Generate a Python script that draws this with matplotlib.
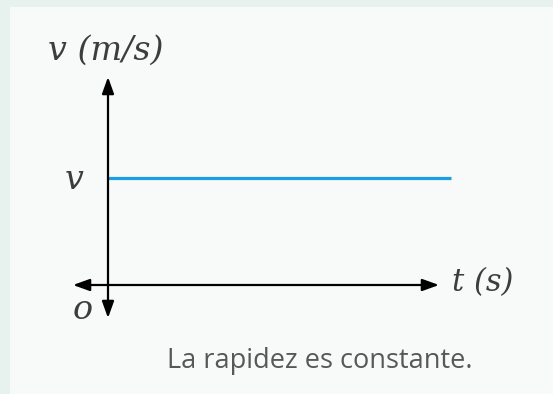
import matplotlib
matplotlib.use("Agg")
import matplotlib.pyplot as plt
from matplotlib.patches import Rectangle

# Data
times = [0, 10]
velocity = [1, 1]
y_label = "v (m/s)"
x_label = "t (s)"
v_tick = "v"
origin_label = "o"
caption = "La rapidez es constante."

W, H = 553, 394
fig = plt.figure(figsize=(W / 100, H / 100), dpi=100)
fig.patch.set_facecolor("#e7f2ef")
fig.patches.append(Rectangle((10 / W, 0), 1 - 10 / W, (H - 7) / H,
                             transform=fig.transFigure, facecolor="#f8f9f9",
                             edgecolor="none", zorder=-10))

ax = fig.add_axes([0, 0, 1, 1])
ax.set_facecolor("none")
# pixel mapping: origin at (108, 285); t=10 -> x=451; v=1 -> y=178
sx = 343 / 10
sy = 107 / 1
ax.set_xlim(-108 / sx, (W - 108) / sx)
ax.set_ylim((285 - H) / sy, 285 / sy)
ax.axis("off")

def px(x, y):
    return ((x - 108) / sx, (285 - y) / sy)

ax.plot(times, velocity, color="#1aa0e2", lw=2.3, solid_capstyle="butt", zorder=3)

arrow = dict(arrowstyle="<|-|>,head_length=1.0,head_width=0.36", color="black",
             lw=1.6, mutation_scale=10, shrinkA=0, shrinkB=0)
ax.annotate("", xy=px(73, 285), xytext=px(439, 285), arrowprops=arrow, zorder=4)
ax.annotate("", xy=px(108, 318), xytext=px(108, 77), arrowprops=arrow, zorder=4)

serif = dict(family=["DejaVu Serif"], style="italic", color="#3d3d3d")
fig.text(106 / W, 1 - 51 / H, y_label, fontsize=24, ha="center", va="center", **serif)
fig.text(74 / W, 1 - 180 / H, v_tick, fontsize=24, ha="center", va="center", **serif)
fig.text(83 / W, 1 - 310 / H, origin_label, fontsize=24, ha="center", va="center", **serif)
fig.text(452 / W, 1 - 283 / H, x_label, fontsize=22, ha="left", va="center", **serif)
fig.text(320 / W, 1 - 361 / H, caption, fontsize=19.5, ha="center", va="center",
         family="Open Sans", color="#585858")

fig.savefig("out.png", dpi=100, facecolor=fig.get_facecolor())
